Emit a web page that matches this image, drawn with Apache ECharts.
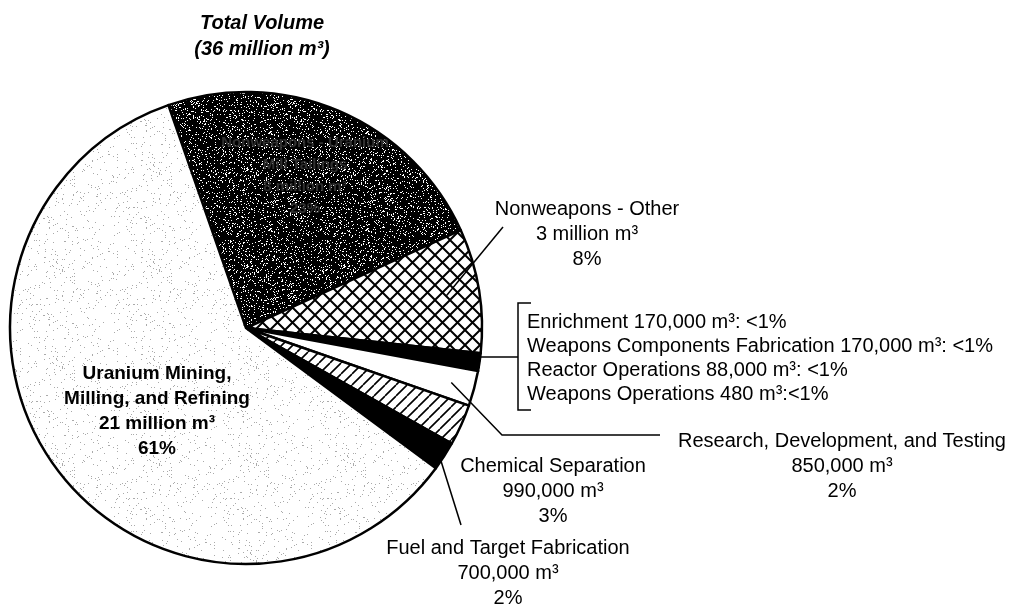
<!DOCTYPE html>
<html>
<head>
<meta charset="utf-8">
<script src="https://cdn.jsdelivr.net/npm/echarts@6/dist/echarts.min.js"></script>
<style>
  html, body { margin: 0; padding: 0; background: #ffffff; }
  #chart { width: 1032px; height: 610px; }
</style>
</head>
<body>
<div id="chart"></div>
<script>
// slices, clockwise from the dark wedge at the top
const names = [
    'Nonweapons - Uranium\nMill Tailings',
    'Nonweapons - Other',
    'Enrichment',
    'Weapons Components Fabrication',
    'Reactor Operations',
    'Weapons Operations',
    'Research, Development, and Testing',
    'Chemical Separation',
    'Fuel and Target Fabrication',
    'Uranium Mining,\nMilling, and Refining'
];
// million m3
const volumes = [8.3, 3, 0.17, 0.17, 0.088, 0.00048, 0.85, 0.99, 0.70, 21];
const volumeText = ['8 million m³', '3 million m³', '170,000 m³', '170,000 m³', '88,000 m³',
    '480 m³', '850,000 m³', '990,000 m³', '700,000 m³', '21 million m³'];
const shareText = ['23%', '8%', '<1%', '<1%', '<1%', '<1%', '2%', '3%', '2%', '61%'];

const CX = 246, CY = 328, R = 236, START = 109.2;
const FONT = '"Liberation Sans", Arial, sans-serif';

// label anchor: [x, y, align]
const labelPos = [
    [305, 176, 'center'],
    [587, 234, 'center'],
    [527, 322, 'left'],
    [527, 346, 'left'],
    [527, 370, 'left'],
    [527, 394, 'left'],
    [842, 466, 'center'],
    [553, 491, 'center'],
    [508, 573, 'center'],
    [157, 411, 'center']
];

const total = volumes.reduce((a, b) => a + b, 0);

// point inside slice i along its middle angle, frac of radius
function slicePoint(i, frac) {
    let before = 0;
    for (let k = 0; k < i; k++) before += volumes[k];
    const mid = (before + volumes[i] / 2) / total * 360;
    const t = (START - mid) * Math.PI / 180;
    return [CX + R * frac * Math.cos(t), CY - R * frac * Math.sin(t)];
}

function makeCanvas(size, draw) {
    const c = document.createElement('canvas');
    c.width = c.height = size;
    draw(c.getContext('2d'), size);
    return c;
}

// fixed dither texture (hash of pixel position)
function speckle(bg, fg, density) {
    return makeCanvas(97, function (g, s) {
        g.fillStyle = bg;
        g.fillRect(0, 0, s, s);
        g.fillStyle = fg;
        for (let y = 0; y < s; y++) {
            for (let x = 0; x < s; x++) {
                const v = Math.sin(x * 12.9898 + y * 78.233) * 43758.5453;
                if (v - Math.floor(v) < density) g.fillRect(x, y, 1, 1);
            }
        }
    });
}

const crossHatch = makeCanvas(15, function (g, s) {
    g.fillStyle = '#fff';
    g.fillRect(0, 0, s, s);
    g.strokeStyle = '#000';
    g.lineWidth = 2;
    g.beginPath();
    for (let k = -1; k <= 1; k++) {
        g.moveTo(k * s, 0); g.lineTo(k * s + s, s);
        g.moveTo(k * s + s, 0); g.lineTo(k * s, s);
    }
    g.stroke();
});

const diagHatch = makeCanvas(11, function (g, s) {
    g.fillStyle = '#fff';
    g.fillRect(0, 0, s, s);
    g.strokeStyle = '#000';
    g.lineWidth = 1.6;
    g.beginPath();
    for (let k = -1; k <= 1; k++) {
        g.moveTo(k * s, s); g.lineTo(k * s + s, 0);
    }
    g.stroke();
});

const fills = [
    { image: speckle('#000', '#fff', 0.12), repeat: 'repeat' },
    { image: crossHatch, repeat: 'repeat' },
    '#000', '#000', '#000', '#000',
    '#fff',
    { image: diagHatch, repeat: 'repeat' },
    '#000',
    { image: speckle('#fff', '#aaaaaa', 0.03), repeat: 'repeat' }
];

function labelText(i) {
    if (i >= 2 && i <= 4) return names[i] + ' ' + volumeText[i] + ': ' + shareText[i];
    if (i === 5) return names[i] + ' ' + volumeText[i] + ':' + shareText[i];
    return names[i] + '\n' + volumeText[i] + '\n' + shareText[i];
}

const seriesData = names.map(function (n, i) {
    const item = {
        name: n,
        value: volumes[i],
        itemStyle: { color: fills[i] }
    };
    if (i === 0) item.label = { color: '#303030', fontWeight: 'bold', fontSize: 15, lineHeight: 22 };
    if (i === 9) item.label = { fontWeight: 'bold', fontSize: 19, lineHeight: 25 };
    return item;
});

const lineStyle = { stroke: '#000', lineWidth: 1.5, fill: null };
function guide(points) {
    return { type: 'polyline', z: 100, shape: { points: points }, style: lineStyle };
}

const chart = echarts.init(document.getElementById('chart'), null, { renderer: 'canvas' });

chart.setOption({
    backgroundColor: '#ffffff',
    animation: false,
    title: {
        text: 'Total Volume\n(36 million m³)',
        left: 257,
        top: 5,
        textAlign: 'center',
        textStyle: {
            fontFamily: FONT,
            fontSize: 20,
            fontWeight: 'bold',
            fontStyle: 'italic',
            lineHeight: 26,
            color: '#000'
        }
    },
    graphic: [
        // leader lines, drawn over the slices
        guide([slicePoint(1, 0.86), [503, 227]]),
        guide([slicePoint(6, 0.9), [502, 435], [660, 435]]),
        guide([slicePoint(8, 0.97), [461, 525]]),
        // bracket for the four small processes
        guide([[480, 357], [518, 357]]),
        guide([[531, 303], [518, 303], [518, 410], [531, 410]])
    ],
    series: [
        {
            type: 'pie',
            center: [CX, CY],
            radius: R,
            startAngle: START,
            clockwise: true,
            avoidLabelOverlap: false,
            silent: true,
            itemStyle: { borderColor: '#000', borderWidth: 2.5 },
            emphasis: { disabled: true },
            labelLine: { show: false },
            label: {
                show: true,
                position: 'outside',
                fontFamily: FONT,
                fontSize: 20,
                lineHeight: 25,
                color: '#000',
                formatter: function (p) { return labelText(p.dataIndex); }
            },
            labelLayout: function (p) {
                const pos = labelPos[p.dataIndex];
                return { x: pos[0], y: pos[1], align: pos[2], verticalAlign: 'middle' };
            },
            data: seriesData
        }
    ]
});
</script>
</body>
</html>
